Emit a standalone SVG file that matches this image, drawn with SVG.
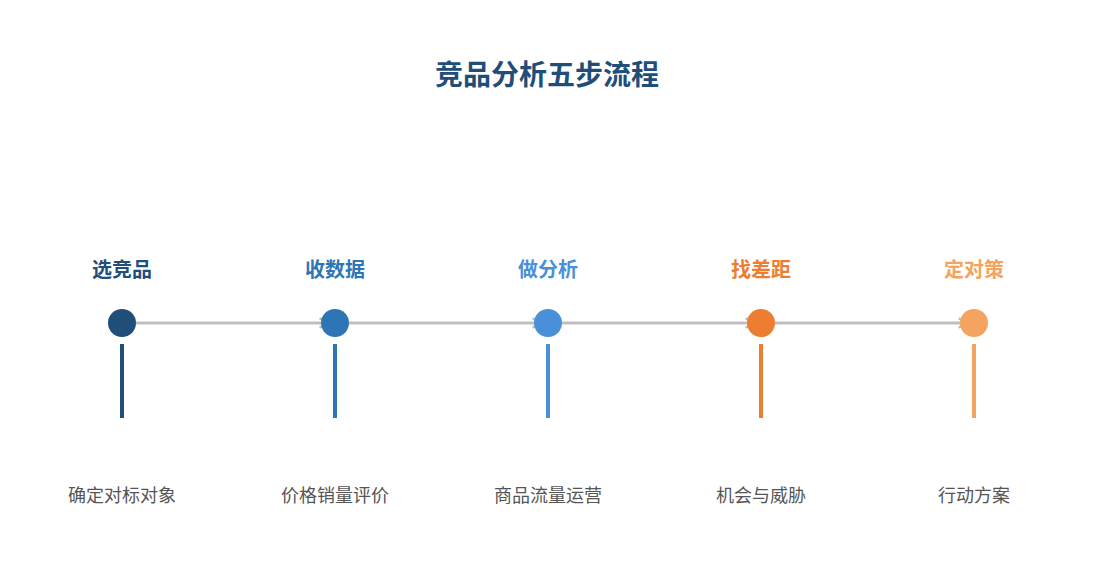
<svg xmlns="http://www.w3.org/2000/svg" width="1095" height="585" viewBox="0 0 1095 585">
<defs>
<style>
.t{font-family:"Noto Sans CJK SC","Noto Sans",sans-serif}
.h{font-size:20px;font-weight:bold;text-anchor:middle}
.d{font-size:18px;fill:#555;text-anchor:middle}
.c{stroke:#bfbfbf;stroke-width:3;fill:none}
</style>
<marker id="a" viewBox="0 0 10 10" refX="8" refY="5" markerWidth="4" markerHeight="4" orient="auto"><path d="M1,1 L8,5 L1,9" fill="none" stroke="#bfbfbf" stroke-width="2"/></marker>
</defs>
<rect width="1095" height="585" fill="#fff"/>
<text class="t" x="547" y="85" font-size="28" font-weight="bold" fill="#1f4e79" text-anchor="middle">竞品分析五步流程</text>
<g id="connectors">
<line class="c" x1="136" y1="323" x2="328" y2="323" marker-end="url(#a)"/>
<line class="c" x1="349" y1="323" x2="541" y2="323" marker-end="url(#a)"/>
<line class="c" x1="562" y1="323" x2="754" y2="323" marker-end="url(#a)"/>
<line class="c" x1="775" y1="323" x2="967" y2="323" marker-end="url(#a)"/>
</g>
<g id="n1"><text class="t h" x="122" y="277" fill="#1f4e79">选竞品</text><circle cx="122" cy="323" r="14" fill="#1f4e79"/><rect x="120" y="344" width="4" height="74" fill="#1f4e79"/><text class="t d" x="122" y="502">确定对标对象</text></g>
<g id="n2"><text class="t h" x="335" y="277" fill="#2e75b6">收数据</text><circle cx="335" cy="323" r="14" fill="#2e75b6"/><rect x="333" y="344" width="4" height="74" fill="#2e75b6"/><text class="t d" x="335" y="502">价格销量评价</text></g>
<g id="n3"><text class="t h" x="548" y="277" fill="#4a90d9">做分析</text><circle cx="548" cy="323" r="14" fill="#4a90d9"/><rect x="546" y="344" width="4" height="74" fill="#4a90d9"/><text class="t d" x="548" y="502">商品流量运营</text></g>
<g id="n4"><text class="t h" x="761" y="277" fill="#ed7d31">找差距</text><circle cx="761" cy="323" r="14" fill="#ed7d31"/><rect x="759" y="344" width="4" height="74" fill="#ed7d31"/><text class="t d" x="761" y="502">机会与威胁</text></g>
<g id="n5"><text class="t h" x="974" y="277" fill="#f4a460">定对策</text><circle cx="974" cy="323" r="14" fill="#f4a460"/><rect x="972" y="344" width="4" height="74" fill="#f4a460"/><text class="t d" x="974" y="502">行动方案</text></g>
</svg>
